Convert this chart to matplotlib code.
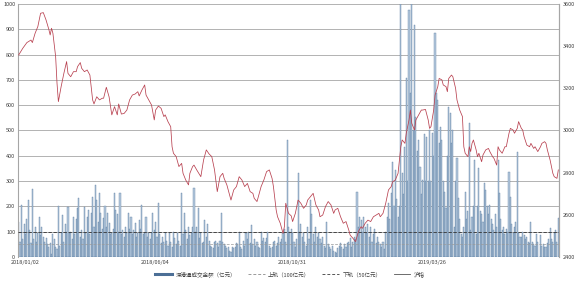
import numpy as np
import matplotlib
matplotlib.use('Agg')
import matplotlib.pyplot as plt
from matplotlib.lines import Line2D

plt.rcParams['font.family'] = ['Noto Sans CJK SC', 'DejaVu Sans']

# 每日成交金额（亿元），2018/01/02 起的交易日
turnover = [
    140, 60, 205, 70, 130, 90, 150, 225, 105, 55,
    270, 70, 120, 60, 95, 160, 85, 120, 80, 60,
    75, 50, 40, 55, 10, 90, 70, 40, 30, 200,
    45, 95, 165, 60, 130, 100, 199, 95, 100, 70,
    160, 90, 150, 192, 232, 80, 105, 70, 199, 95,
    160, 185, 90, 173, 238, 120, 285, 225, 140, 252,
    173, 110, 155, 200, 120, 173, 133, 90, 95, 110,
    252, 185, 170, 100, 254, 90, 105, 80, 120, 95,
    173, 110, 160, 90, 105, 133, 80, 95, 146, 110,
    205, 90, 95, 160, 80, 95, 70, 95, 173, 107,
    140, 80, 212, 90, 55, 80, 60, 95, 65, 45,
    95, 60, 40, 100, 75, 50, 95, 65, 45, 254,
    90, 173, 105, 70, 120, 85, 95, 120, 271, 100,
    120, 192, 75, 95, 55, 60, 146, 80, 130, 65,
    45, 40, 35, 60, 65, 55, 40, 65, 173, 60,
    50, 45, 35, 40, 25, 20, 40, 35, 40, 55,
    50, 100, 40, 30, 65, 45, 95, 70, 100, 55,
    126, 50, 70, 45, 60, 40, 35, 100, 65, 75,
    60, 75, 100, 45, 35, 40, 60, 65, 45, 55,
    80, 60, 70, 95, 110, 60, 462, 120, 100, 110,
    95, 60, 40, 70, 331, 100, 130, 80, 95, 60,
    45, 120, 70, 225, 170, 90, 60, 120, 80, 95,
    70, 55, 80, 45, 35, 140, 50, 40, 30, 45,
    25, 20, 15, 35, 45, 55, 40, 30, 50, 40,
    55, 60, 75, 40, 60, 80, 70, 258, 120, 160,
    145, 100, 160, 120, 95, 130, 80, 120, 60, 90,
    110, 55, 80, 60, 50, 40, 60, 30, 100, 160,
    212, 150, 252, 377, 200, 344, 230, 160, 200, 1000,
    331, 250, 436, 706, 300, 976, 647, 1000, 500, 917,
    555, 420, 462, 357, 250, 304, 488, 300, 476, 300,
    502, 300, 489, 400, 884, 647, 620, 450, 515, 462,
    300, 258, 192, 400, 594, 568, 450, 502, 120, 300,
    390, 232, 150, 90, 80, 120, 258, 150, 180, 528,
    105, 160, 200, 383, 90, 200, 350, 180, 170, 140,
    291, 265, 200, 170, 205, 150, 130, 105, 170, 120,
    383, 252, 150, 105, 120, 90, 110, 100, 337, 238,
    130, 95, 120, 140, 416, 95, 80, 80, 100, 85,
    70, 80, 60, 55, 140, 60, 50, 45, 90, 60,
    0, 85, 45, 50, 40, 40, 55, 70, 113, 70,
    60, 95, 105, 60, 153,
]

# 沪指收盘（交易日序号, 点位）
sh_day = [
    0, 3, 6, 9, 10, 12, 14, 16, 18, 20, 22, 23, 24, 25, 27, 28, 29, 31, 33, 35,
    36, 38, 40, 42, 43, 45, 46, 48, 50, 52, 54, 55, 57, 59, 61, 62, 64, 66, 68, 70,
    72, 73, 75, 77, 79, 81, 83, 85, 87, 88, 90, 92, 93, 95, 97, 99, 100, 102, 104, 106,
    107, 109, 111, 112, 113, 115, 117, 119, 120, 122, 124, 125, 127, 128, 130, 133, 135, 137, 139, 141,
    143, 145, 147, 149, 150, 152, 155, 157, 159, 161, 163, 165, 167, 169, 171, 172, 174, 175, 177, 179,
    181, 183, 185, 186, 188, 189, 191, 193, 194, 195, 197, 199, 200, 202, 204, 206, 208, 210, 211, 213,
    215, 217, 219, 220, 222, 224, 226, 228, 230, 231, 233, 235, 237, 239, 241, 242, 244, 246, 248, 250,
    251, 253, 255, 257, 259, 261, 263, 264, 266, 268, 270, 272, 273, 275, 277, 279, 280, 282, 283, 285,
    286, 287, 289, 290, 292, 294, 295, 297, 299, 300, 301, 303, 304, 306, 307, 309, 310, 312, 313, 314,
    316, 317, 319, 320, 322, 324, 325, 326, 328, 329, 330, 331, 332, 334, 335, 336, 338, 339, 341, 343,
    344, 346, 347, 349, 350, 351, 353, 355, 356, 358, 359, 361, 362, 364, 365, 367, 368, 369, 371, 373,
    374, 376, 377, 379, 381, 382, 384, 385, 386, 388, 390, 391, 393, 394,
]
sh_close = [
    3358, 3390, 3417, 3429, 3417, 3461, 3493, 3556, 3559, 3524, 3480, 3453, 3485, 3461, 3350, 3224, 3137, 3208, 3271, 3327,
    3271, 3255, 3279, 3279, 3303, 3322, 3295, 3279, 3287, 3263, 3145, 3126, 3160, 3145, 3153, 3153, 3205, 3160, 3074, 3113,
    3074, 3126, 3078, 3081, 3097, 3145, 3168, 3173, 3184, 3164, 3192, 3216, 3168, 3145, 3121, 3050, 3097, 3116, 3105, 3066,
    3074, 3042, 3018, 2923, 2892, 2876, 2829, 2844, 2797, 2765, 2742, 2797, 2829, 2836, 2813, 2781, 2860, 2908, 2889, 2876,
    2813, 2710, 2781, 2797, 2773, 2742, 2670, 2718, 2734, 2781, 2765, 2734, 2749, 2710, 2702, 2678, 2663, 2686, 2734, 2765,
    2805, 2813, 2773, 2734, 2623, 2591, 2560, 2512, 2544, 2655, 2607, 2595, 2568, 2607, 2670, 2655, 2631, 2647, 2670, 2686,
    2702, 2647, 2623, 2591, 2599, 2639, 2663, 2647, 2607, 2623, 2631, 2591, 2560, 2568, 2528, 2504, 2489, 2473, 2520, 2544,
    2536, 2560, 2575, 2568, 2591, 2599, 2607, 2591, 2607, 2655, 2718, 2734, 2757, 2765, 2797, 2923, 2955, 2939, 2987, 3050,
    3097, 3034, 3002, 3050, 3074, 3097, 3097, 3100, 3050, 3010, 3018, 3097, 3168, 3208, 3247, 3240, 3216, 3208, 3184, 3247,
    3263, 3255, 3200, 3145, 3097, 3066, 2923, 2892, 2876, 2923, 2900, 2939, 2955, 2908, 2876, 2892, 2852, 2884, 2908, 2915,
    2900, 2876, 2868, 2836, 2923, 2908, 2892, 2923, 2923, 2987, 3010, 3002, 2987, 3010, 3042, 3010, 3002, 2971, 2931, 2923,
    2939, 2915, 2923, 2900, 2923, 2939, 2947, 2939, 2908, 2860, 2797, 2781, 2773, 2813,
]

tick_pos = [5, 100, 200, 302]
tick_labels = ['2018/01/02', '2018/06/04', '2018/10/31', '2019/03/26']

upper_band = 100
lower_band = 50

fig = plt.figure(figsize=(5.8, 2.81), dpi=100)
ax = fig.add_axes([0.031, 0.0854, 0.9328, 0.9004])

x = np.arange(len(turnover))
ax.bar(x, turnover, width=0.8, color='#b7cbde', edgecolor='#4f7399', linewidth=0.25, zorder=2)

ax.axhline(upper_band, color='#333333', lw=0.6, ls=(0, (4, 2)), zorder=3)
ax.axhline(lower_band, color='#9a9a9a', lw=0.5, ls=(0, (4, 2)), zorder=3)

ax.set_ylim(0, 1000)
ax.set_xlim(-0.5, len(turnover) - 0.5)
ax.set_yticks(np.arange(0, 1001, 100))
ax.grid(axis='y', color='#a6a6a6', lw=0.6, zorder=0)
ax.set_axisbelow(True)
ax.set_xticks(tick_pos)
ax.set_xticklabels(tick_labels)
ax.tick_params(axis='both', length=0, labelsize=4, colors='#404040', pad=2)
for s in ['top', 'bottom']:
    ax.spines[s].set_visible(False)
ax.spines['left'].set_color('#a6a6a6')
ax.spines['right'].set_color('#a6a6a6')

ax2 = ax.twinx()
ax2.plot(sh_day, sh_close, color='#b8404f', lw=0.55, zorder=4)
ax2.set_ylim(2400, 3600)
ax2.set_yticks(np.arange(2400, 3601, 200))
ax2.tick_params(axis='y', length=0, labelsize=4, colors='#404040', pad=3)
for s in ['top', 'bottom', 'left']:
    ax2.spines[s].set_visible(False)
ax2.spines['right'].set_color('#a6a6a6')

handles = [
    Line2D([], [], color='#4c6f96', lw=2.2),
    Line2D([], [], color='#9a9a9a', lw=0.7, ls=(0, (3, 2))),
    Line2D([], [], color='#555555', lw=0.7, ls=(0, (3, 2))),
    Line2D([], [], color='#555555', lw=0.6),
]
labels = ['深港通成交金额（亿元）', '上轨（100亿元）', '下轨（50亿元）', '沪指']
fig.legend(handles, labels, loc='lower center', bbox_to_anchor=(0.5, -0.005), ncol=4,
           frameon=False, fontsize=4, handlelength=3, handletextpad=0.6,
           columnspacing=2.2, labelcolor='#404040')

fig.savefig('out.png', dpi=100)
